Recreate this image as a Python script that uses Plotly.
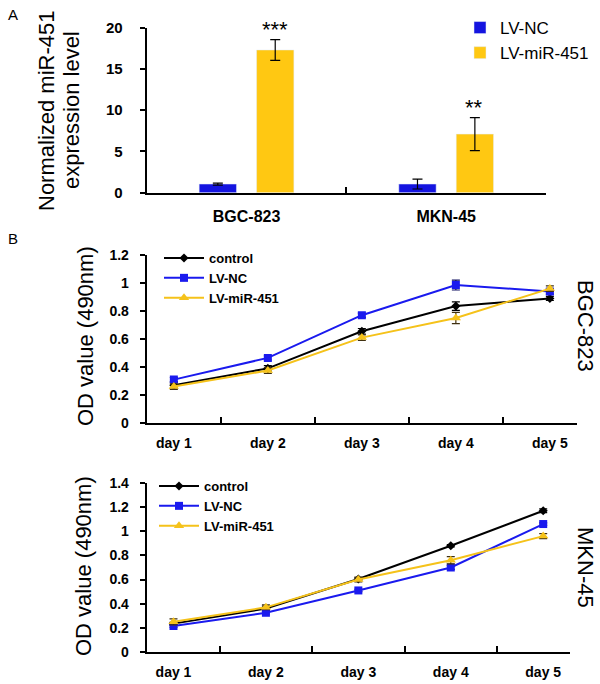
import plotly.graph_objects as go

# ---------------- data ----------------
cell_lines = ["BGC-823", "MKN-45"]
nc_expr = [1.05, 1.05]
nc_expr_err = [0.12, 0.6]
mir_expr = [17.3, 7.1]
mir_expr_err = [1.25, 2.0]
sig_marks = ["***", "**"]
expr_ticks = [0, 5, 10, 15, 20]

days = ["day 1", "day 2", "day 3", "day 4", "day 5"]
bgc_control = [0.27, 0.39, 0.655, 0.835, 0.89]
bgc_control_err = [0.02, 0.02, 0.02, 0.03, 0.015]
bgc_nc = [0.31, 0.465, 0.77, 0.985, 0.94]
bgc_nc_err = [0.015, 0.015, 0.015, 0.035, 0.02]
bgc_mir = [0.26, 0.375, 0.61, 0.75, 0.96]
bgc_mir_err = [0.02, 0.02, 0.02, 0.04, 0.02]

mkn_control = [0.235, 0.36, 0.605, 0.88, 1.17]
mkn_control_err = [0.01, 0.02, 0.01, 0.01, 0.015]
mkn_nc = [0.215, 0.325, 0.51, 0.70, 1.06]
mkn_nc_err = [0.01, 0.01, 0.01, 0.015, 0.01]
mkn_mir = [0.25, 0.37, 0.60, 0.76, 0.96]
mkn_mir_err = [0.025, 0.02, 0.02, 0.03, 0.02]

bgc_ticks = [0, 0.2, 0.4, 0.6, 0.8, 1, 1.2]
mkn_ticks = [0, 0.2, 0.4, 0.6, 0.8, 1, 1.2, 1.4]

# ---------------- style ----------------
BLUE_BAR = "#1414E0"
YEL_BAR = "#FFC812"
BLUE = "#1a1aee"
YEL = "#F5C21A"
BLACK = "#000000"
FONT = "Liberation Sans, Arial, sans-serif"

W, H = 600, 684


def px(x):
    return x / W


def py(y):
    return 1 - y / H


fig = go.Figure()

# ---------------- panel A bars ----------------
fig.add_trace(go.Bar(
    x=cell_lines, y=nc_expr, name="LV-NC", marker_color=BLUE_BAR,
    error_y=dict(type="data", array=nc_expr_err, color=BLACK, thickness=1.2, width=5),
    xaxis="x", yaxis="y", legend="legend"))
fig.add_trace(go.Bar(
    x=cell_lines, y=mir_expr, name="LV-miR-451", marker_color=YEL_BAR,
    error_y=dict(type="data", array=mir_expr_err, color=BLACK, thickness=1.2, width=5),
    xaxis="x", yaxis="y", legend="legend"))

for i, c in enumerate(cell_lines):
    fig.add_annotation(x=c, y=mir_expr[i] + mir_expr_err[i], xref="x", yref="y",
                       text=sig_marks[i], showarrow=False, xshift=28, yshift=-4,
                       yanchor="bottom", font=dict(family=FONT, size=22, color=BLACK))


# ---------------- panel B lines ----------------
def add_lines(ctrl, ctrl_e, nc, nc_e, mir, mir_e, xa, ya, lg):
    fig.add_trace(go.Scatter(
        x=days, y=ctrl, name="control", mode="lines+markers",
        line=dict(color=BLACK, width=2), marker=dict(symbol="diamond", size=7, color=BLACK),
        error_y=dict(type="data", array=ctrl_e, color=BLACK, thickness=1.2, width=4),
        xaxis=xa, yaxis=ya, legend=lg))
    fig.add_trace(go.Scatter(
        x=days, y=nc, name="LV-NC", mode="lines+markers",
        line=dict(color=BLUE, width=2), marker=dict(symbol="square", size=8, color=BLUE),
        error_y=dict(type="data", array=nc_e, color="#101060", thickness=1.2, width=4),
        xaxis=xa, yaxis=ya, legend=lg))
    fig.add_trace(go.Scatter(
        x=days, y=mir, name="LV-miR-451", mode="lines+markers",
        line=dict(color=YEL, width=2), marker=dict(symbol="triangle-up", size=9, color=YEL),
        error_y=dict(type="data", array=mir_e, color="#403010", thickness=1.2, width=4),
        xaxis=xa, yaxis=ya, legend=lg))


add_lines(bgc_control, bgc_control_err, bgc_nc, bgc_nc_err, bgc_mir, bgc_mir_err, "x2", "y2", "legend2")
add_lines(mkn_control, mkn_control_err, mkn_nc, mkn_nc_err, mkn_mir, mkn_mir_err, "x3", "y3", "legend3")

# ---------------- axes ----------------
axis_common = dict(showline=True, linecolor=BLACK, linewidth=2, showgrid=False, zeroline=False,
                   mirror=False)

xcat = dict(axis_common, type="category", tickson="boundaries", ticks="inside", ticklen=6,
            tickwidth=2, tickcolor=BLACK)

fig.update_layout(
    width=W, height=H, margin=dict(l=0, r=0, t=0, b=0, autoexpand=False),
    paper_bgcolor="white", plot_bgcolor="white",
    barmode="group", bargap=0.425, bargroupgap=0.35,
    showlegend=True,
    xaxis=dict(xcat, domain=[px(146.7), px(546)], anchor="y",
               tickfont=dict(family=FONT, size=16, color=BLACK, weight="bold"),
               ticklabelstandoff=8),
    yaxis=dict(axis_common, domain=[py(192.7), py(27.7)], anchor="x", range=[0, 20],
               tickvals=expr_ticks, ticks="outside", ticklen=5, tickwidth=2, tickcolor=BLACK,
               tickfont=dict(family=FONT, size=15, color=BLACK, weight="bold"),
               ticklabelstandoff=14),
    xaxis2=dict(xcat, domain=[px(146.7), px(577)], anchor="y2",
                tickfont=dict(family=FONT, size=14, color=BLACK, weight="bold"),
                ticklabelstandoff=6),
    yaxis2=dict(axis_common, domain=[py(423), py(255)], anchor="x2", range=[0, 1.2],
                tickvals=bgc_ticks, ticks="outside", ticklen=5, tickwidth=2, tickcolor=BLACK,
                tickfont=dict(family=FONT, size=14, color=BLACK, weight="bold"),
                ticklabelstandoff=8),
    xaxis3=dict(xcat, domain=[px(146.7), px(570)], anchor="y3",
                tickfont=dict(family=FONT, size=14, color=BLACK, weight="bold"),
                ticklabelstandoff=6),
    yaxis3=dict(axis_common, domain=[py(652), py(483)], anchor="x3", range=[0, 1.4],
                tickvals=mkn_ticks, ticks="outside", ticklen=5, tickwidth=2, tickcolor=BLACK,
                tickfont=dict(family=FONT, size=14, color=BLACK, weight="bold"),
                ticklabelstandoff=8),
    legend=dict(x=px(460), y=py(10), xanchor="left", yanchor="top", bgcolor="rgba(0,0,0,0)",
                font=dict(family=FONT, size=17, color=BLACK), tracegroupgap=0,
                itemwidth=30),
    legend2=dict(x=px(159), y=py(243), xanchor="left", yanchor="top", bgcolor="rgba(0,0,0,0)",
                 font=dict(family=FONT, size=13, color=BLACK, weight="bold"),
                 tracegroupgap=0, itemwidth=40),
    legend3=dict(x=px(154), y=py(471), xanchor="left", yanchor="top", bgcolor="rgba(0,0,0,0)",
                 font=dict(family=FONT, size=13, color=BLACK, weight="bold"),
                 tracegroupgap=0, itemwidth=40),
)

# ---------------- text labels ----------------
def ann(text, x, y, size, angle=0, weight="normal"):
    fig.add_annotation(x=px(x), y=py(y), xref="paper", yref="paper", text=text, showarrow=False,
                       textangle=angle, xanchor="center", yanchor="middle",
                       font=dict(family=FONT, size=size, color=BLACK, weight=weight))


ann("A", 13, 14, 15)
ann("B", 13, 238, 15)
ann("Normalized miR-451", 47, 111, 22, -90)
ann("expression level", 71, 110, 22, -90)
ann("OD value (490nm)", 85, 336, 22, -90)
ann("OD value (490nm)", 83, 566, 22, -90)
ann("BGC-823", 586, 326, 22, 90)
ann("MKN-45", 586, 567, 22, 90)

fig.write_html("out.html", config={"displayModeBar": False},
               post_script="document.body.style.margin='0';document.body.style.overflow='hidden';")
